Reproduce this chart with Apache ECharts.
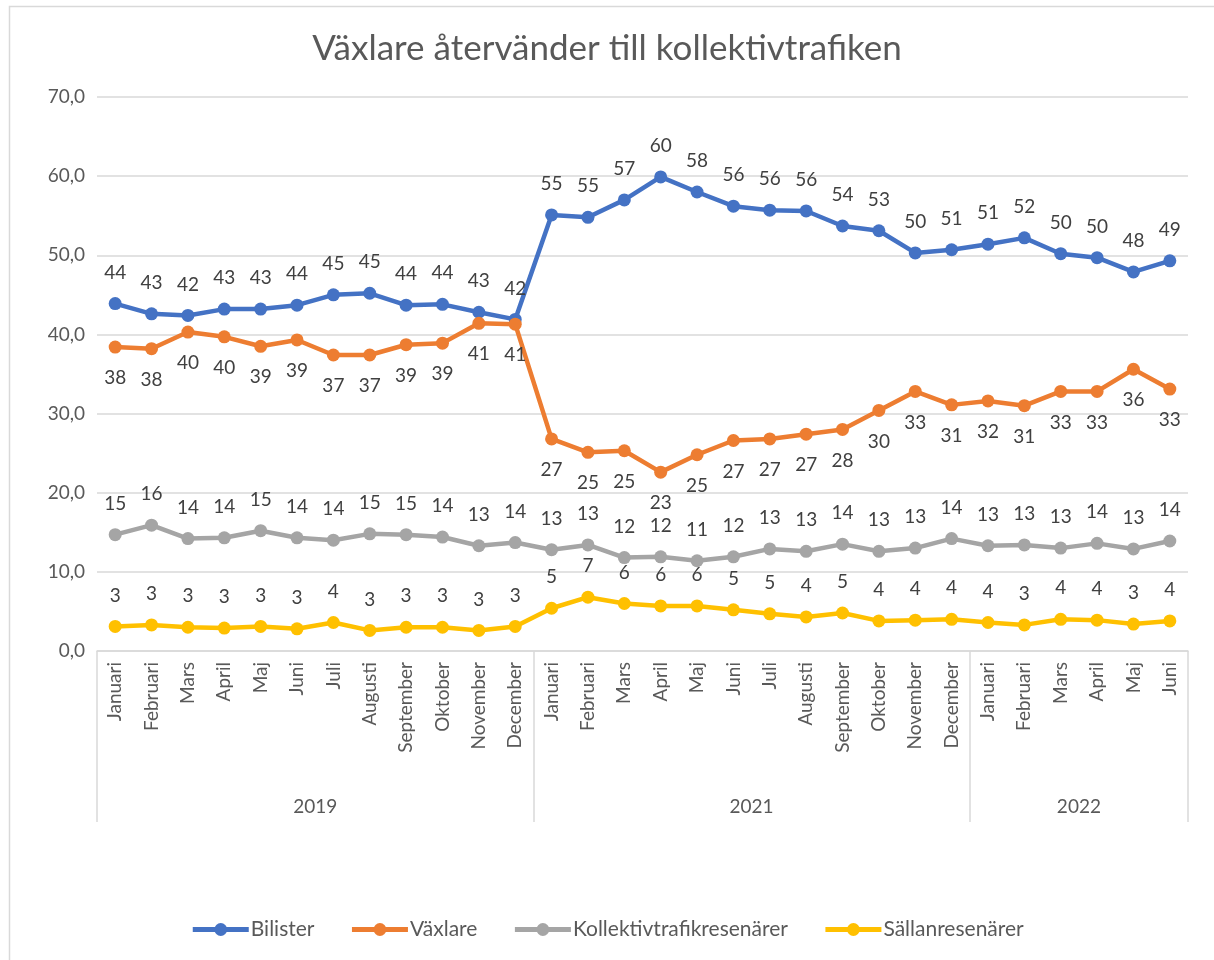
<!DOCTYPE html>
<html>
<head>
<meta charset="utf-8">
<script src="https://cdn.jsdelivr.net/npm/echarts@6/dist/echarts.min.js"></script>
<style>
  html, body { margin: 0; padding: 0; background: #fff; }
  #chart { width: 1214px; height: 960px; }
</style>
</head>
<body>
<div id="chart"></div>
<script>
// Data
var months = ['Januari', 'Februari', 'Mars', 'April', 'Maj', 'Juni', 'Juli', 'Augusti', 'September', 'Oktober', 'November', 'December',
  'Januari', 'Februari', 'Mars', 'April', 'Maj', 'Juni', 'Juli', 'Augusti', 'September', 'Oktober', 'November', 'December',
  'Januari', 'Februari', 'Mars', 'April', 'Maj', 'Juni'];
var years = ['2019', '2021', '2022'];
var yearCenters = [6, 18, 27];
var yearBounds = [0, 12, 24, 30];

var bilister = [43.9, 42.6, 42.4, 43.2, 43.2, 43.7, 45.0, 45.2, 43.7, 43.8, 42.8, 41.9,
  55.1, 54.8, 57.0, 59.9, 58.0, 56.2, 55.7, 55.6, 53.7, 53.1, 50.3, 50.7,
  51.4, 52.2, 50.2, 49.7, 47.9, 49.3];
var vaxlare = [38.4, 38.2, 40.3, 39.7, 38.5, 39.3, 37.4, 37.4, 38.7, 38.9, 41.4, 41.3,
  26.8, 25.1, 25.3, 22.6, 24.8, 26.6, 26.8, 27.4, 28.0, 30.4, 32.8, 31.1,
  31.6, 31.0, 32.8, 32.8, 35.6, 33.1];
var kollektiv = [14.7, 15.9, 14.2, 14.3, 15.2, 14.3, 14.0, 14.8, 14.7, 14.4, 13.3, 13.7,
  12.8, 13.4, 11.8, 11.9, 11.4, 11.9, 12.9, 12.6, 13.5, 12.6, 13.0, 14.2,
  13.3, 13.4, 13.0, 13.6, 12.9, 13.9];
var sallan = [3.1, 3.3, 3.0, 2.9, 3.1, 2.8, 3.6, 2.6, 3.0, 3.0, 2.6, 3.1,
  5.4, 6.8, 6.0, 5.7, 5.7, 5.2, 4.7, 4.3, 4.8, 3.8, 3.9, 4.0,
  3.6, 3.3, 4.0, 3.9, 3.4, 3.8];

var font = 'Lato, "Open Sans", sans-serif';

var myChart = echarts.init(document.getElementById('chart'));

var makeSeries = function(name, data, color, pos) {
  return {
    name: name,
    type: 'line',
    data: data,
    xAxisIndex: 0,
    symbol: 'circle',
    symbolSize: 13,
    lineStyle: { width: 4.5, color: color },
    itemStyle: { color: color },
    label: {
      show: true,
      position: pos,
      distance: 15,
      fontFamily: font,
      fontSize: 19,
      color: '#404040',
      formatter: function(p) { return Math.round(p.value); }
    },
    emphasis: { disabled: true }
  };
};

var option = {
  animation: false,
  textStyle: { fontFamily: font },
  title: {
    text: 'Växlare återvänder till kollektivtrafiken',
    left: 'center',
    top: 26,
    textStyle: { fontFamily: font, fontSize: 35, fontWeight: 'normal', color: '#595959' }
  },
  graphic: [{
    type: 'rect',
    z: -10,
    shape: { x: 9.5, y: 6.5, width: 1400, height: 1100 },
    style: { fill: 'none', stroke: '#d9d9d9', lineWidth: 1.5 }
  }],
  legend: {
    bottom: 15,
    left: 'center',
    itemWidth: 56,
    itemHeight: 16,
    itemGap: 35,
    lineStyle: { width: 5 },
    textStyle: { fontFamily: font, fontSize: 21, color: '#595959', padding: [0, 0, 0, -3] },
    data: ['Bilister', 'Växlare', 'Kollektivtrafikresenärer', 'Sällanresenärer']
  },
  grid: { left: 97, right: 26, top: 97, bottom: 309, containLabel: false },
  xAxis: [{
    type: 'category',
    data: months,
    boundaryGap: true,
    axisLine: { lineStyle: { color: '#d9d9d9', width: 1.5 } },
    axisTick: { show: false },
    axisLabel: {
      rotate: 90,
      interval: 0,
      margin: 11,
      fontFamily: font,
      fontSize: 19,
      color: '#595959'
    }
  }, {
    type: 'value',
    position: 'bottom',
    min: 0,
    max: 30,
    axisLine: { show: false },
    splitLine: { show: false },
    axisTick: {
      show: true,
      customValues: yearBounds,
      length: 171,
      lineStyle: { color: '#d9d9d9', width: 1.5 }
    },
    axisLabel: {
      customValues: yearCenters,
      margin: 146,
      fontFamily: font,
      fontSize: 19,
      color: '#595959',
      formatter: function(v) { return years[yearCenters.indexOf(v)]; }
    }
  }],
  yAxis: {
    type: 'value',
    min: 0,
    max: 70,
    interval: 10,
    axisLine: { show: false },
    axisTick: { show: false },
    splitLine: { lineStyle: { color: '#d9d9d9', width: 1.5 } },
    axisLabel: {
      margin: 12,
      fontFamily: font,
      fontSize: 19,
      color: '#595959',
      formatter: function(v) { return v.toFixed(1).replace('.', ','); }
    }
  },
  series: [
    makeSeries('Bilister', bilister, '#4472C4', 'top'),
    makeSeries('Växlare', vaxlare, '#ED7D31', 'bottom'),
    makeSeries('Kollektivtrafikresenärer', kollektiv, '#A5A5A5', 'top'),
    makeSeries('Sällanresenärer', sallan, '#FFC000', 'top')
  ]
};
myChart.setOption(option);
</script>
</body>
</html>
